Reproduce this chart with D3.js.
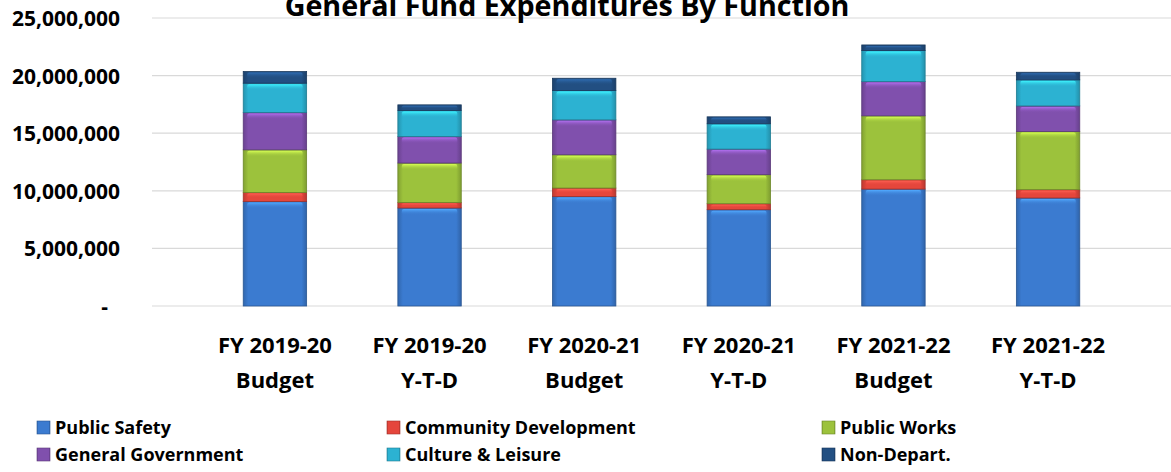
<!DOCTYPE html>
<html>
<head>
<meta charset="utf-8">
<script src="https://cdn.jsdelivr.net/npm/d3@7"></script>
<style>
  body { margin: 0; background: #fff; }
  svg text { font-family: "Open Sans", "Noto Sans", sans-serif; font-weight: bold; fill: #000; }
</style>
</head>
<body>
<div id="chart"></div>
<script>
const categories = ["FY 2019-20|Budget", "FY 2019-20|Y-T-D", "FY 2020-21|Budget", "FY 2020-21|Y-T-D", "FY 2021-22|Budget", "FY 2021-22|Y-T-D"];
const series_names = ["Public Safety", "Community Development", "Public Works", "General Government", "Culture & Leisure", "Non-Depart."];
const public_safety = [9080000, 8510000, 9510000, 8360000, 10150000, 9380000];
const community_development = [780000, 480000, 730000, 520000, 810000, 720000];
const public_works = [3700000, 3420000, 2890000, 2520000, 5550000, 5050000];
const general_government = [3240000, 2300000, 3030000, 2220000, 2970000, 2220000];
const culture_leisure = [2540000, 2260000, 2540000, 2200000, 2690000, 2260000];
const non_depart = [1010000, 490000, 1070000, 600000, 490000, 660000];
const y_ticks = [0, 5000000, 10000000, 15000000, 20000000, 25000000];
const colors = ["#3b7bd0", "#e5463c", "#9cc23c", "#8050ad", "#2cb2d2", "#224f82"];

const width = 1171, height = 472;
const margin = { left: 152, right: 0, top: 18, bottom: 166 };

const all_series = [public_safety, community_development, public_works, general_government, culture_leisure, non_depart];
const rows = categories.map((c, i) => {
    const row = { cat: c };
    series_names.forEach((s, j) => { row[s] = all_series[j][i]; });
    return row;
});
const stacked = d3.stack().keys(series_names)(rows);

const svg = d3.select("#chart").append("svg")
    .attr("width", width).attr("height", height);

const defs = svg.append("defs");
colors.forEach((c, i) => {
    const g = defs.append("linearGradient").attr("id", "grad" + i)
        .attr("x1", "0").attr("x2", "1").attr("y1", "0").attr("y2", "0");
    g.append("stop").attr("offset", "0%").attr("stop-color", d3.color(c).darker(0.5));
    g.append("stop").attr("offset", "8%").attr("stop-color", c);
    g.append("stop").attr("offset", "92%").attr("stop-color", c);
    g.append("stop").attr("offset", "100%").attr("stop-color", d3.color(c).darker(0.6));
    const v = defs.append("linearGradient").attr("id", "vgrad" + i)
        .attr("x1", "0").attr("x2", "0").attr("y1", "0").attr("y2", "1");
    v.append("stop").attr("offset", "0%").attr("stop-color", d3.color(c).brighter(0.9));
    v.append("stop").attr("offset", "100%").attr("stop-color", c).attr("stop-opacity", 0);
});

const x = d3.scaleBand().domain(categories)
    .range([margin.left, width - margin.right]).padding(0.59);
const y = d3.scaleLinear().domain([0, 25000000])
    .range([height - margin.bottom, margin.top]);

// gridlines
svg.append("g").selectAll("line").data(y_ticks).join("line")
    .attr("x1", margin.left).attr("x2", width - margin.right)
    .attr("y1", d => y(d)).attr("y2", d => y(d))
    .attr("stroke", "#d9d9d9").attr("stroke-width", 1.2);

// y axis labels
const yAxis = d3.axisLeft(y).tickValues(y_ticks)
    .tickFormat(d => d === 0 ? "-" : d3.format(",")(d)).tickSize(0).tickPadding(32);
const yg = svg.append("g").attr("transform", `translate(${margin.left},0)`).call(yAxis);
yg.select(".domain").remove();
yg.selectAll("text").style("font-size", "21px").attr("dy", "0.36em");
yg.selectAll(".tick").filter(d => d === 0).select("text").attr("dx", "-12px");

// bars
const layers = svg.append("g").selectAll("g").data(stacked).join("g");
layers.each(function (layer, i) {
    const g = d3.select(this);
    g.selectAll("rect.body").data(layer).join("rect").attr("class", "body")
        .attr("x", d => x(d.data.cat))
        .attr("y", d => y(d[1]))
        .attr("width", x.bandwidth())
        .attr("height", d => y(d[0]) - y(d[1]))
        .attr("fill", "url(#grad" + i + ")")
        .attr("stroke", d3.color(colors[i]).darker(1))
        .attr("stroke-width", 0.8);
    g.selectAll("rect.shine").data(layer).join("rect").attr("class", "shine")
        .attr("x", d => x(d.data.cat) + 4)
        .attr("y", d => y(d[1]) + 1)
        .attr("width", x.bandwidth() - 8)
        .attr("height", d => Math.min(6, (y(d[0]) - y(d[1])) * 0.5))
        .attr("rx", 2)
        .attr("fill", "url(#vgrad" + i + ")");
});

// x labels
const xl = svg.append("g").selectAll("text").data(categories).join("text")
    .attr("x", d => x(d) + x.bandwidth() / 2)
    .attr("text-anchor", "middle")
    .style("font-size", "22px");
xl.append("tspan").attr("x", d => x(d) + x.bandwidth() / 2).attr("y", 353).text(d => d.split("|")[0]);
xl.append("tspan").attr("x", d => x(d) + x.bandwidth() / 2).attr("y", 388).text(d => d.split("|")[1]);

// title, sized to span the same width as the original
const title = svg.append("text").attr("x", 567).attr("y", 16).attr("text-anchor", "middle")
    .style("font-size", "24px").text("General Fund Expenditures By Function");
const tw = title.node().getComputedTextLength();
title.style("font-size", (24 * 565 / tw).toFixed(1) + "px");

// legend
const legend_x = [31, 381, 816];
const legend_y = [428, 455];
const lg = svg.append("g").selectAll("g").data(series_names).join("g")
    .attr("transform", (d, i) => `translate(${legend_x[i % 3]},${legend_y[Math.floor(i / 3)]})`);
lg.append("rect").attr("x", 6).attr("y", -7).attr("width", 13).attr("height", 13)
    .attr("fill", (d, i) => "url(#grad" + i + ")")
    .attr("stroke", (d, i) => d3.color(colors[i]).darker(1)).attr("stroke-width", 0.6);
lg.append("text").attr("x", 24).attr("dy", "0.35em").style("font-size", "18px").text(d => d);
</script>
</body>
</html>
